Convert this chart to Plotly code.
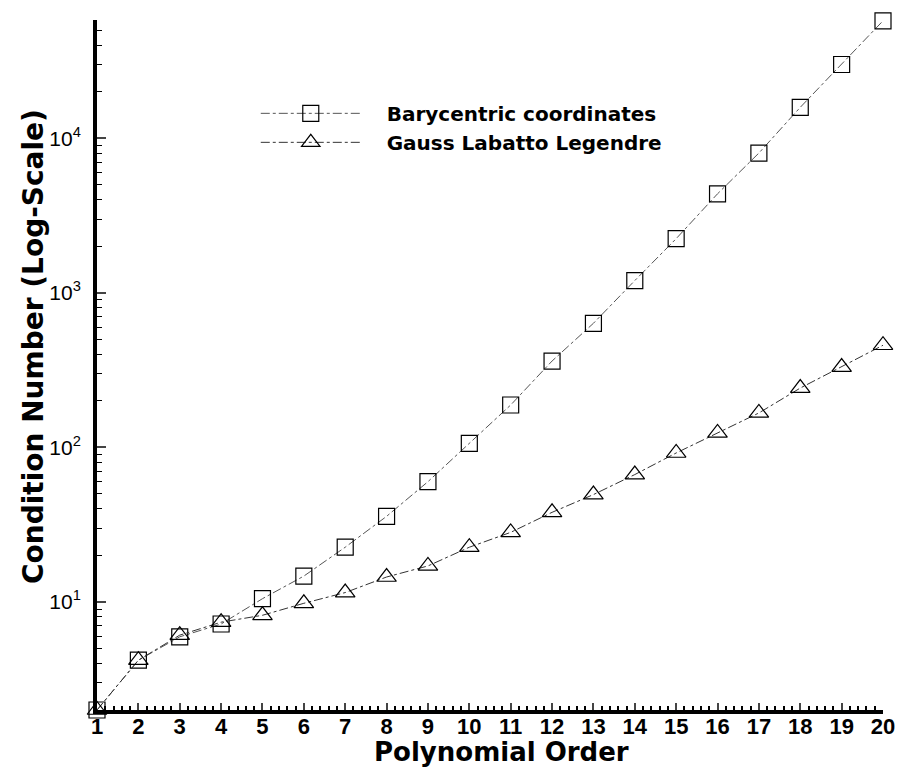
import plotly.graph_objects as go

orders = list(range(1, 21))
bary = [2.0, 4.2, 5.95, 7.2, 10.5, 14.7, 22.6, 35.8, 60, 106, 188, 362, 635, 1200,
        2240, 4370, 8020, 15850, 30000, 57500]
gll = [2.0, 4.2, 6.1, 7.4, 8.2, 9.8, 11.5, 14.5, 17.1, 22.6, 28.2, 38, 49.5, 66.7,
       92, 124, 167, 242, 331, 458]
series_names = ["Barycentric coordinates", "Gauss Labatto Legendre"]
ytick_vals = [10, 100, 1000, 10000]
ytick_text = ["10<sup>1</sup>", "10<sup>2</sup>", "10<sup>3</sup>", "10<sup>4</sup>"]
x_title = "Polynomial Order"
y_title = "Condition Number (Log-Scale)"

minor_vals = [m * 10 ** k for k in range(0, 5) for m in range(2, 10)]

fig = go.Figure()
fig.add_trace(go.Scatter(
    x=orders, y=bary, name="\u00a0\u00a0\u00a0" + series_names[0], mode="lines+markers",
    line=dict(color="#555555", width=1, dash="dashdot"),
    marker=dict(symbol="square-open", size=16, color="black", line=dict(width=1.2)),
    cliponaxis=False))
fig.add_trace(go.Scatter(
    x=orders, y=gll, name="\u00a0\u00a0\u00a0" + series_names[1], mode="lines+markers",
    line=dict(color="#333333", width=1, dash="dashdot"),
    marker=dict(symbol="triangle-up-open", size=17, color="black", line=dict(width=1.2)),
    cliponaxis=False))

title_font = "DejaVu Sans, sans-serif"
tick_font = "Liberation Sans, Arial, sans-serif"
fig.update_layout(
    width=901, height=771,
    margin=dict(l=97, r=18, t=20, b=61),
    paper_bgcolor="white", plot_bgcolor="white",
    font=dict(family=tick_font, color="black"),
    legend=dict(x=0.202, y=0.893, xanchor="left", yanchor="top", itemwidth=100,
                font=dict(family=title_font, size=20, weight="bold"),
                bgcolor="rgba(0,0,0,0)", tracegroupgap=0),
    xaxis=dict(range=[1, 20], tickvals=orders, ticks="inside", ticklen=7, tickwidth=2,
               showline=True, linewidth=4, linecolor="black", showgrid=False, zeroline=False,
               automargin=False, ticklabelstandoff=-6, ticklabeloverflow="allow",
               tickfont=dict(size=22, weight="bold"),
               minor=dict(dtick=0.2, ticks="inside", ticklen=4, tickwidth=1.5, tickcolor="black")),
    yaxis=dict(type="log", range=[0.301, 4.765], tickvals=ytick_vals, ticktext=ytick_text,
               ticks="inside", ticklen=9, tickwidth=2, showline=True, linewidth=4,
               linecolor="black", showgrid=False, zeroline=False, automargin=False,
               ticklabelstandoff=8,
               tickfont=dict(size=21),
               minor=dict(tickvals=minor_vals, ticks="inside", ticklen=5, tickwidth=1.2,
                          tickcolor="black")),
    annotations=[
        dict(text=x_title, x=0.514, y=-0.0609, xref="paper", yref="paper",
             xanchor="center", yanchor="middle", showarrow=False,
             font=dict(family=title_font, size=26, weight="bold")),
        dict(text=y_title, x=-0.0814, y=0.526, xref="paper", yref="paper",
             xanchor="center", yanchor="middle", showarrow=False, textangle=-90,
             font=dict(family=title_font, size=28, weight="bold")),
    ],
)
fig.write_html("out.html", config={"displayModeBar": False},
               post_script="document.body.style.margin='0';")
